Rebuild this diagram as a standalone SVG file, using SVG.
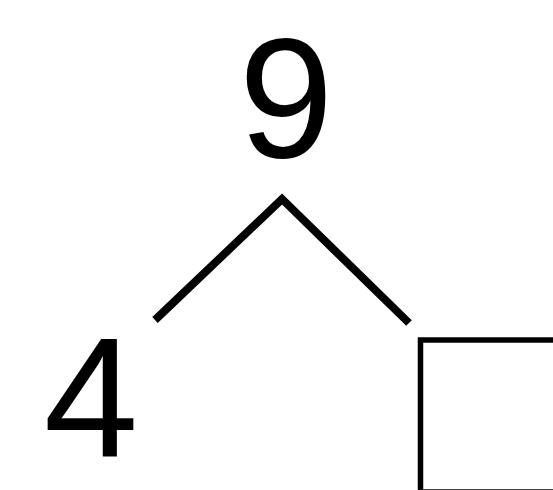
<svg xmlns="http://www.w3.org/2000/svg" width="553" height="490" viewBox="0 0 553 490">
<style>
.num{font-family:"Liberation Sans",Arial,sans-serif;font-size:170px;fill:#000;text-anchor:middle}
.ln{stroke:#000;stroke-width:8;fill:none;stroke-linecap:butt;stroke-linejoin:miter}
.box{stroke:#000;stroke-width:5.5;fill:#fff}
</style>
<rect width="553" height="490" fill="#fff"/>
<g id="connectors">
<path class="ln" d="M155,320 L282,199 L409,323"/>
</g>
<g id="node-whole"><text class="num" x="286" y="157">9</text></g>
<g id="node-part-4"><text class="num" x="91" y="457">4</text></g>
<g id="node-part-box"><rect class="box" x="420.5" y="340" width="200" height="152"/></g>
</svg>
